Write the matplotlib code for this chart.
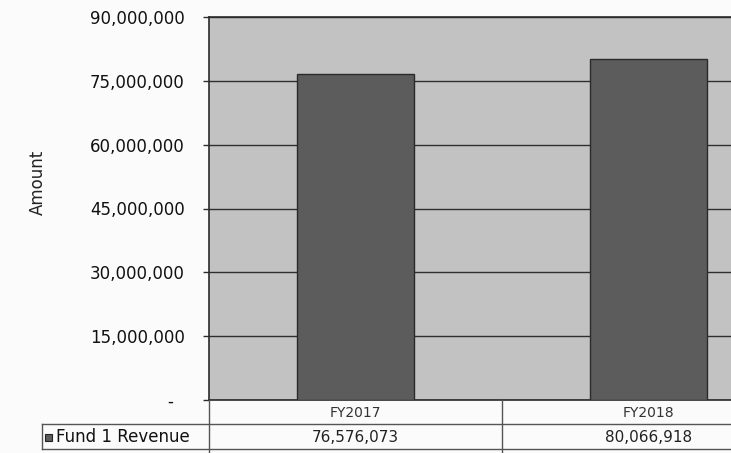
import numpy as np
import matplotlib
matplotlib.use('Agg')
import matplotlib.pyplot as plt
from matplotlib.lines import Line2D
from matplotlib.ticker import FuncFormatter

# Revenue by fiscal year
categories = ['FY2017', 'FY2018']
revenue = [76576073, 80066918]
series_name = 'Fund 1 Revenue'
y_ticks = [0, 15000000, 30000000, 45000000, 60000000, 75000000, 90000000]

W, H = 731, 453
plt.rcParams['font.family'] = ['DejaVu Sans']
plt.rcParams['font.size'] = 12

fig = plt.figure(figsize=(W / 100, H / 100), dpi=100)
fig.patch.set_facecolor('#fbfbfb')

# plot area in pixels (left, top, right, bottom); runs off the right edge
left, top, right, bottom = 209, 17, 795, 400
ax = fig.add_axes([left / W, 1 - bottom / H, (right - left) / W, (bottom - top) / H])
ax.set_facecolor('#c2c2c2')

x = np.arange(len(categories))
ax.bar(x, revenue, width=0.4, color='#5c5c5c', edgecolor='#2a2a2a', linewidth=1, zorder=3)

ax.set_xlim(-0.5, len(categories) - 0.5)
ax.set_ylim(0, 90000000)
ax.set_yticks(y_ticks)
ax.yaxis.set_major_formatter(FuncFormatter(lambda v, p: '-  ' if v == 0 else '{:,.0f}'.format(v)))
ax.grid(axis='y', color='#2e2e2e', linewidth=1, zorder=1)
ax.tick_params(axis='y', direction='out', length=4.5, width=1, color='#2e2e2e', pad=13, labelsize=12, labelcolor='#111111')

ax.set_xticks(x)
ax.set_xticklabels(categories, fontsize=10, color='#333333')
ax.tick_params(axis='x', length=0, pad=4)

for s in ax.spines.values():
	s.set_color('#2a2a2a')
	s.set_linewidth(1.2)

# y axis title
fig.text(38 / W, 1 - 182 / H, 'Amount', rotation=90, ha='center', va='center', fontsize=12, color='#222222')

# data table under the plot
def fx(px):
	return px / W

def fy(py):
	return 1 - py / H

line_kw = dict(color='#555555', linewidth=1, transform=fig.transFigure)
fig.add_artist(Line2D([fx(42), fx(W)], [fy(424), fy(424)], **line_kw))
fig.add_artist(Line2D([fx(42), fx(W)], [fy(449), fy(449)], **line_kw))
fig.add_artist(Line2D([fx(42), fx(42)], [fy(424), fy(449)], **line_kw))
fig.add_artist(Line2D([fx(left), fx(left)], [fy(bottom), fy(H)], **line_kw))
cat_w = (right - left) / len(categories)
for i in range(1, len(categories)):
	xd = left + i * cat_w
	fig.add_artist(Line2D([fx(xd), fx(xd)], [fy(bottom), fy(H)], **line_kw))

# legend key and series name
fig.patches.append(plt.Rectangle((fx(45), fy(441)), 7 / W, 7 / H, transform=fig.transFigure,
	facecolor='#5c5c5c', edgecolor='#222222', linewidth=0.8))
fig.text(fx(56), fy(437), series_name, ha='left', va='center', fontsize=12, color='#111111')

for i, v in enumerate(revenue):
	xc = left + (i + 0.5) * cat_w
	fig.text(fx(xc), fy(437), '{:,}'.format(v), ha='center', va='center', fontsize=11, color='#222222')

fig.savefig('out.png', dpi=100, facecolor=fig.get_facecolor())
